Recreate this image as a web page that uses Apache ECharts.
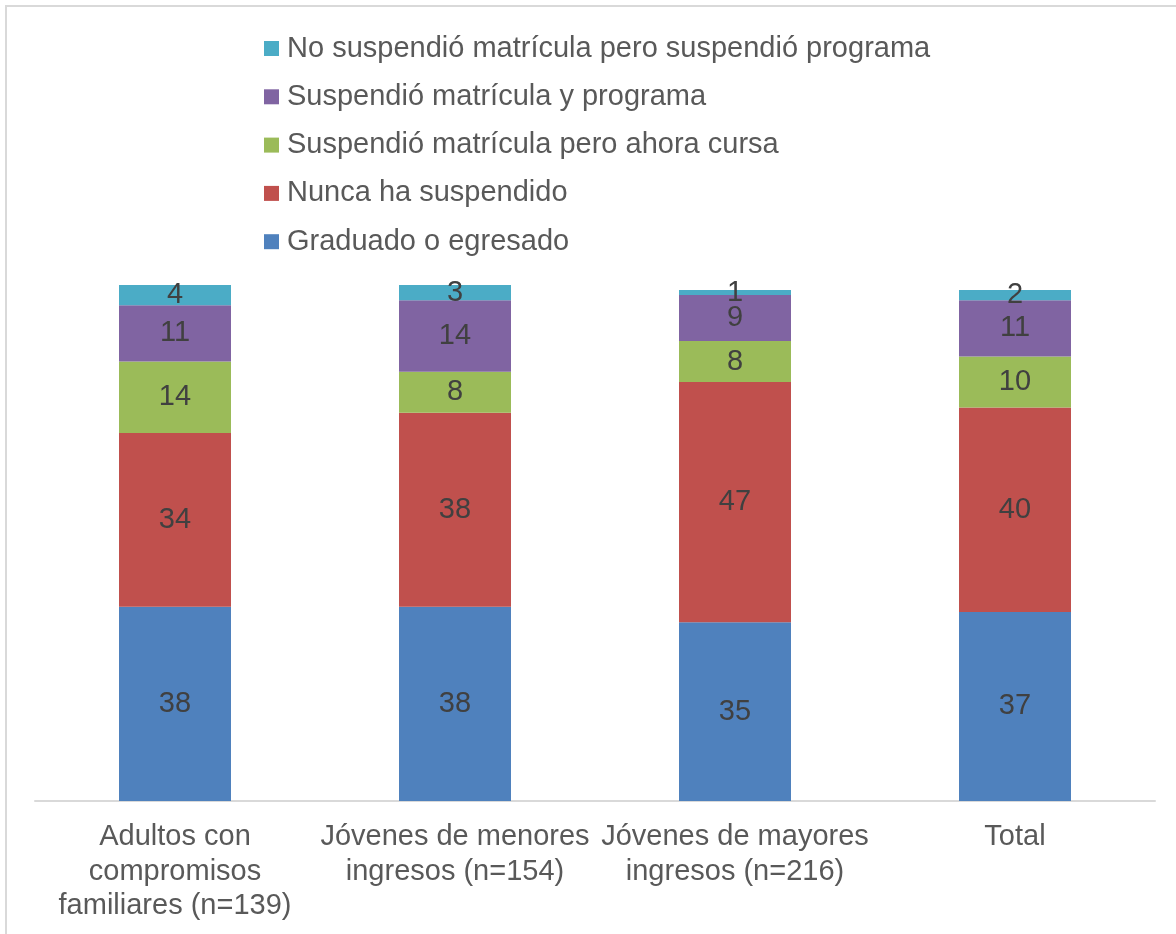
<!DOCTYPE html>
<html>
<head>
<meta charset="utf-8">
<script src="https://cdn.jsdelivr.net/npm/echarts@6/dist/echarts.min.js"></script>
<style>
  html, body { margin: 0; padding: 0; overflow: hidden; background: #fff; }
  #frame {
    position: absolute; left: 5px; top: 5px;
    width: 1300px; height: 1100px;
    border: 2px solid #d9d9d9;
  }
  #main { position: absolute; left: 0; top: 0; width: 1176px; height: 934px; }
</style>
</head>
<body>
<div id="frame"></div>
<div id="main"></div>
<script>
// grupos (eje x)
const categories = [
  'Adultos con\ncompromisos\nfamiliares (n=139)',
  'Jóvenes de menores\ningresos (n=154)',
  'Jóvenes de mayores\ningresos (n=216)',
  'Total'
];

// porcentajes por grupo, de abajo hacia arriba
const graduado = [38, 38, 35, 37];
const nunca = [34, 38, 47, 40];
const ahoraCursa = [14, 8, 8, 10];
const matriculaPrograma = [11, 14, 9, 11];
const soloPrograma = [4, 3, 1, 2];

const seriesNames = [
  'Graduado o egresado',
  'Nunca ha suspendido',
  'Suspendió matrícula pero ahora cursa',
  'Suspendió matrícula y programa',
  'No suspendió matrícula pero suspendió programa'
];
const seriesValues = [graduado, nunca, ahoraCursa, matriculaPrograma, soloPrograma];
const colors = ['#4f81bd', '#c0504d', '#9bbb59', '#8064a2', '#4bacc6'];

const font = "'Liberation Sans', Arial, sans-serif";

const chart = echarts.init(document.getElementById('main'));

const option = {
  animation: false,
  color: colors,
  legend: {
    orient: 'vertical',
    left: 259,
    top: 29,
    icon: 'rect',
    itemWidth: 15,
    itemHeight: 15,
    itemGap: 19.3,
    data: seriesNames.slice().reverse(),
    textStyle: { fontFamily: font, fontSize: 29, color: '#595959', lineHeight: 29, padding: [0, 0, 0, 3] }
  },
  grid: { left: 35, right: 21, top: 290, bottom: 133 },
  xAxis: {
    type: 'category',
    data: categories,
    axisLine: { lineStyle: { color: '#d9d9d9', width: 2 } },
    axisTick: { show: false },
    axisLabel: {
      interval: 0,
      margin: 19,
      fontFamily: font,
      fontSize: 29,
      lineHeight: 34.5,
      color: '#595959'
    }
  },
  yAxis: {
    type: 'value',
    min: 0,
    max: 100,
    show: false,
    splitLine: { show: false }
  },
  series: seriesNames.map((name, i) => ({
    name: name,
    type: 'bar',
    stack: 'total',
    barWidth: 112,
    clip: false,
    data: seriesValues[i],
    label: {
      show: true,
      position: 'inside',
      fontFamily: font,
      fontSize: 29,
      color: '#404040'
    }
  }))
};

chart.setOption(option);
</script>
</body>
</html>
